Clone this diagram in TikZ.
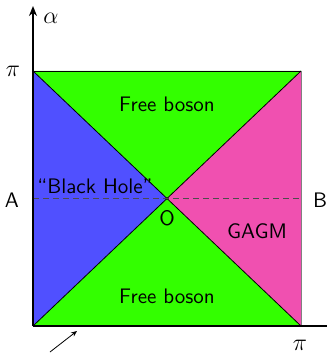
\documentclass[tikz,border=0pt]{standalone}
\usetikzlibrary{arrows.meta}
\definecolor{bosongreen}{RGB}{51,255,0}
\definecolor{holeblue}{RGB}{80,80,255}
\definecolor{gagmpink}{RGB}{240,80,176}
\begin{document}
\begin{tikzpicture}[
  x=0.5pt, y=-0.5pt,
  % Line styles
  diag/.style={black, line width=0.4pt},
  axis/.style={black, line width=1pt},
  divider/.style={black!70, dash pattern=on 3pt off 2pt, line width=0.5pt},
  % Label styles
  lbl/.style={font=\fontsize{10.5}{13}\selectfont\sffamily, inner sep=1pt},
  mlbl/.style={font=\fontsize{13}{15}\selectfont, inner sep=1pt},
]
\useasboundingbox (0,0) rectangle (327,353);

% === CORNERS ===
\coordinate (BL) at (33,326);
\coordinate (BR) at (301,326);
\coordinate (TR) at (301,71);
\coordinate (TL) at (33,71);
\coordinate (O)  at (167,198.5);
\coordinate (Aside) at (33,198.5);
\coordinate (Bside) at (301,198.5);

% === REGIONS ===
\fill[bosongreen] (TL) -- (TR) -- (O) -- cycle;
\fill[bosongreen] (BL) -- (BR) -- (O) -- cycle;
\fill[holeblue]   (TL) -- (BL) -- (O) -- cycle;
\fill[gagmpink]   (TR) -- (BR) -- (O) -- cycle;

% === EDGES ===
\draw[diag] (TL) -- (BR);
\draw[diag] (BL) -- (TR);
\draw[diag] (TL) -- (TR);
\draw[gray, line width=0.5pt] (TR) -- (BR);
\draw[divider] (Aside) -- (Bside);

% === AXES ===
\coordinate (ytip) at (33,6);
\coordinate (xend) at (327,326);
\draw[axis, -{Stealth[length=5pt, width=4pt]}] (BL) -- (ytip);
\draw[axis] (BL) -- (xend);

% === POINTER ===
\coordinate (ptail) at (50,352);
\coordinate (phead) at (77,331);
\draw[-{Stealth[length=3pt, width=2.5pt]}, line width=0.4pt] (ptail) -- (phead);

% === LABELS ===
\node[mlbl] (alpha) at (51,18) {$\alpha$};
\node[mlbl] (piy)   at (13,71) {$\pi$};
\node[mlbl] (pix)   at (300,345) {$\pi$};
\node[lbl]  (A)     at (12,200) {A};
\node[lbl]  (B)     at (320,200) {B};
\node[lbl, anchor=west] (bh) at (35,186) {``Black Hole''};
\node[lbl]  (Olbl)  at (167,218) {O};
\node[lbl]  (gagm)  at (257,231) {GAGM};
\node[lbl]  (fbtop) at (167,104) {Free boson};
\node[lbl]  (fbbot) at (167,296) {Free boson};
\end{tikzpicture}
\end{document}
